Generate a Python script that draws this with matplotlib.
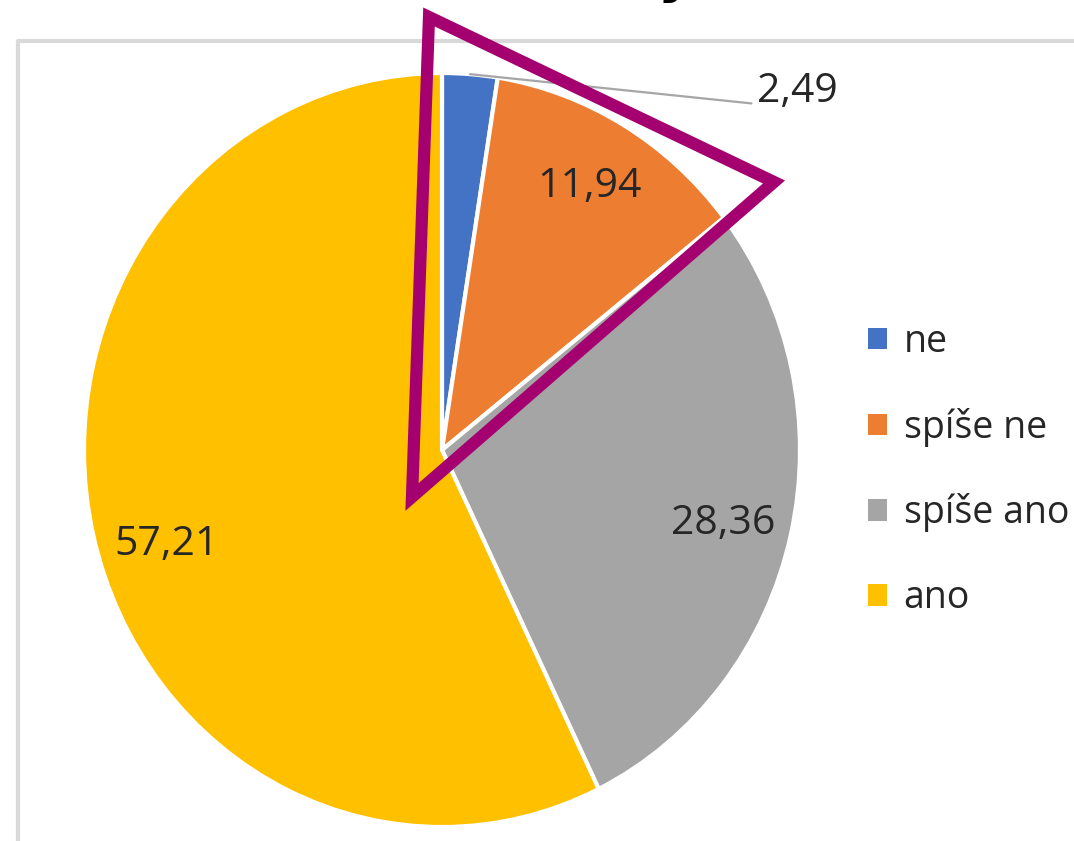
import numpy as np
import matplotlib.pyplot as plt
from matplotlib.lines import Line2D
from matplotlib.patches import Polygon

categories = ['ne', 'spíše ne', 'spíše ano', 'ano']
values = [2.49, 11.94, 28.36, 57.21]
value_labels = ['2,49', '11,94', '28,36', '57,21']
colors = ['#4472C4', '#ED7D31', '#A5A5A5', '#FFC000']

W, H = 1074, 841
plt.rcParams['font.family'] = ['Open Sans', 'DejaVu Sans']

fig = plt.figure(figsize=(W / 100, H / 100), dpi=100)


def px(x, y):
    # pixel coords (top-left origin) -> figure fraction
    return x / W, 1 - y / H


# chart area frame (only left and top edges are visible)
fig.add_artist(Line2D([18 / W, 18 / W, 1.01], [-0.01, 1 - 41 / H, 1 - 41 / H],
                      transform=fig.transFigure, color='#d9d9d9', lw=3.0))

# cut-off title descender
fig.text(675 / W, 1 + 9 / H, 'y', fontsize=40, weight='bold', ha='center',
         va='baseline', color='black', family='DejaVu Sans')

# pie axis, stretched a bit vertically like the screenshot
left, right, top, bottom = 84, 800, 73, 827
ax = fig.add_axes([left / W, 1 - bottom / H, (right - left) / W, (bottom - top) / H])
wedges, _ = ax.pie(values, colors=colors, startangle=90, counterclock=False,
                   radius=1.0, wedgeprops=dict(edgecolor='white', linewidth=3, clip_on=False))
ax.set_aspect('auto')
ax.set_xlim(-1, 1)
ax.set_ylim(-1, 1)
ax.axis('off')

# small nudges (degrees) so labels sit where excel put them
nudge = [0, 0, -1, 5]
for i, (w, lab) in enumerate(zip(wedges, value_labels)):
    mid = np.deg2rad((w.theta1 + w.theta2) / 2 + nudge[i])
    if i == 0:
        ax.annotate(lab, xy=(np.cos(mid), np.sin(mid)), xytext=(0.88, 0.95),
                    fontsize=29.5, ha='left', va='center', color='#262626',
                    arrowprops=dict(arrowstyle='-', color='#a6a6a6', lw=1.6,
                                    relpos=(0, 0.2), shrinkA=2, shrinkB=0))
    else:
        r = 0.81
        ax.text(r * np.cos(mid), r * np.sin(mid), lab, fontsize=29.5,
                ha='center', va='center', color='#262626')

leg = fig.legend(wedges, categories, loc='center left',
                 bbox_to_anchor=px(868, 470), frameon=False, fontsize=27,
                 handlelength=0.5, handleheight=0.5, handletextpad=0.45,
                 labelspacing=1.25, borderpad=0, borderaxespad=0)
for t in leg.get_texts():
    t.set_color('#262626')
for h in leg.legend_handles:
    h.set_edgecolor('none')

# highlight triangle
tri = [px(429, 17), px(774, 182), px(412, 497)]
fig.add_artist(Polygon(tri, closed=True, fill=False, edgecolor='#A5006F',
                       lw=8.8, joinstyle='miter', transform=fig.transFigure, zorder=10))

fig.savefig('out.png', dpi=100)
